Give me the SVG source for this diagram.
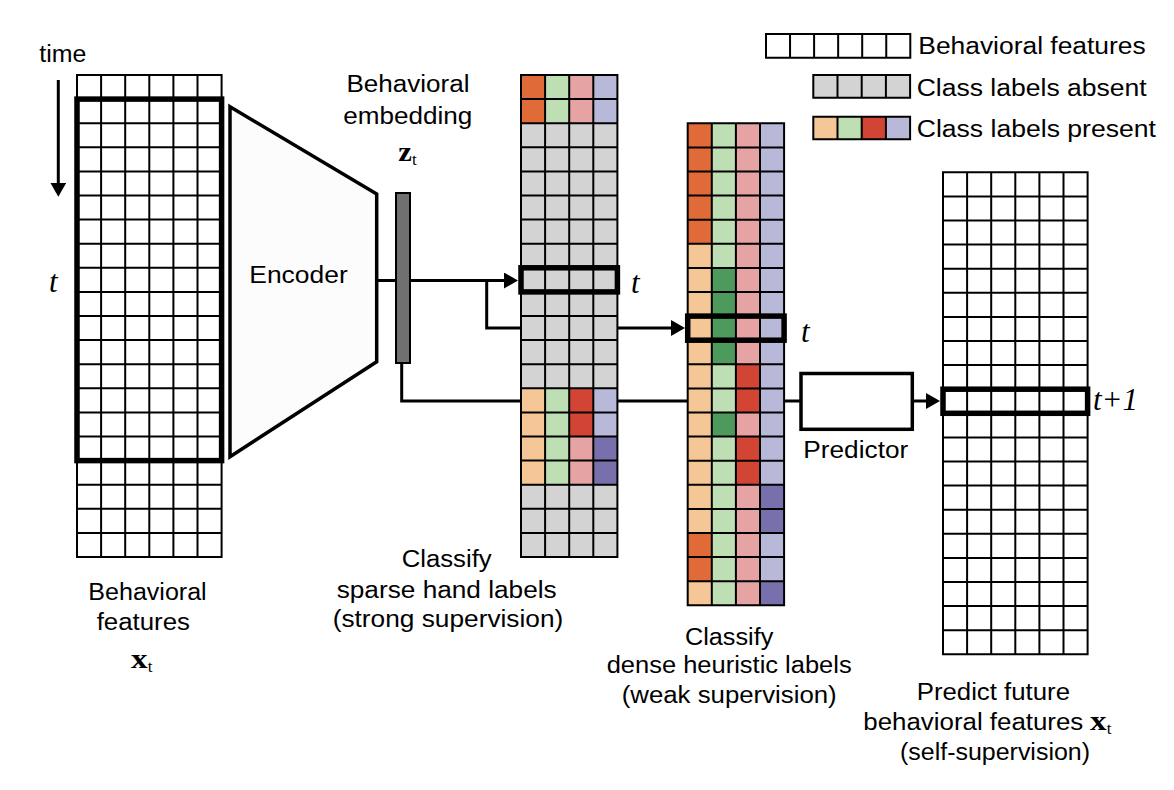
<svg xmlns="http://www.w3.org/2000/svg" width="1174" height="790" viewBox="0 0 1174 790">
<style>
.s{font-family:"Liberation Sans",Arial,Helvetica,sans-serif;font-size:23px;fill:#000}
.it{font-family:"Liberation Serif","Times New Roman",serif;font-style:italic;font-size:31px;fill:#000}
.bx{font-family:"Liberation Serif","Times New Roman",serif;font-weight:bold;font-size:27px;fill:#000}
.sub{font-family:"Liberation Serif","Times New Roman",serif;font-size:17px;fill:#000}
.grid{fill:none;stroke:#000;stroke-width:2;stroke-linecap:square}
.thick{fill:none;stroke:#000;stroke-width:5.5}
.conn{fill:none;stroke:#000;stroke-width:3}
.do{fill:#E06B38}.lg{fill:#BEDFB4}.pk{fill:#E5A3A3}.lv{fill:#B8B8D8}
.pc{fill:#F5C797}.rd{fill:#D24434}.dg{fill:#4E9A5D}.dp{fill:#7870AC}.gy{fill:#D3D3D3}
</style>
<defs>
<marker id="ah" markerUnits="userSpaceOnUse" markerWidth="14" markerHeight="16" viewBox="0 0 14 16" refX="4" refY="8" orient="auto">
<path d="M0,0L14,8L0,16z" fill="#000"/>
</marker>
</defs>
<rect width="1174" height="790" fill="#fff"/>

<g id="connectors">
<path class="conn" d="M377,280.5H508" marker-end="url(#ah)"/>
<path class="conn" d="M486.7,280.5V328H675" marker-end="url(#ah)"/>
<path class="conn" d="M401.7,363V401H801"/>
<path class="conn" d="M912.3,401H930" marker-end="url(#ah)"/>
</g>

<g id="time-axis">
<text class="s" x="39.3" y="61.7" textLength="47" lengthAdjust="spacingAndGlyphs">time</text>
<path class="conn" d="M58.3,80V186.7" marker-end="url(#ah)"/>
<text class="it" x="49" y="291.5">t</text>
</g>

<g id="input-features">
<rect x="77" y="75" width="144.6" height="482" fill="#fff"/>
<path class="grid" d="M77,75V557M101.1,75V557M125.2,75V557M149.3,75V557M173.4,75V557M197.5,75V557M221.6,75V557M77,75H221.6M77,99.1H221.6M77,123.2H221.6M77,147.3H221.6M77,171.4H221.6M77,195.5H221.6M77,219.6H221.6M77,243.7H221.6M77,267.8H221.6M77,291.9H221.6M77,316H221.6M77,340.1H221.6M77,364.2H221.6M77,388.3H221.6M77,412.4H221.6M77,436.5H221.6M77,460.6H221.6M77,484.7H221.6M77,508.8H221.6M77,532.9H221.6M77,557H221.6"/>
<rect class="thick" x="77" y="99.1" width="144.6" height="361.5"/>
<text class="s" x="88.3" y="600" textLength="118.4" lengthAdjust="spacingAndGlyphs">Behavioral</text>
<text class="s" x="96.7" y="630" textLength="93.3" lengthAdjust="spacingAndGlyphs">features</text>
<text class="bx" x="131" y="667.7" textLength="16.5" lengthAdjust="spacingAndGlyphs">x</text>
<text class="sub" x="147.8" y="671.7">t</text>
</g>

<g id="encoder">
<polygon points="230,106.7 376.7,194 376.7,361.7 230,456.7" fill="#FCFCFC" stroke="#000" stroke-width="3.5" stroke-linejoin="miter"/>
<text class="s" x="249.3" y="282.7" textLength="98.4" lengthAdjust="spacingAndGlyphs">Encoder</text>
</g>

<g id="embedding">
<rect x="396" y="193" width="14" height="170" fill="#707070" stroke="#000" stroke-width="2"/>
<text class="s" x="346.5" y="92" textLength="123" lengthAdjust="spacingAndGlyphs">Behavioral</text>
<text class="s" x="343.3" y="123.5" textLength="129" lengthAdjust="spacingAndGlyphs">embedding</text>
<text class="bx" x="398.3" y="161" textLength="13.6" lengthAdjust="spacingAndGlyphs">z</text>
<text class="sub" x="412" y="165">t</text>
</g>

<g id="sparse-labels">
<rect class="gy" x="521" y="75" width="96.4" height="482"/>
<rect class="do" x="521" y="75" width="24.1" height="48.2"/>
<rect class="lg" x="545.1" y="75" width="24.1" height="48.2"/>
<rect class="pk" x="569.2" y="75" width="24.1" height="48.2"/>
<rect class="lv" x="593.3" y="75" width="24.1" height="48.2"/>
<rect class="pc" x="521" y="388.3" width="24.1" height="96.4"/>
<rect class="lg" x="545.1" y="388.3" width="24.1" height="96.4"/>
<rect class="rd" x="569.2" y="388.3" width="24.1" height="48.2"/>
<rect class="pk" x="569.2" y="436.5" width="24.1" height="48.2"/>
<rect class="lv" x="593.3" y="388.3" width="24.1" height="48.2"/>
<rect class="dp" x="593.3" y="436.5" width="24.1" height="48.2"/>
<path class="grid" d="M521,75V557M545.1,75V557M569.2,75V557M593.3,75V557M617.4,75V557M521,75H617.4M521,99.1H617.4M521,123.2H617.4M521,147.3H617.4M521,171.4H617.4M521,195.5H617.4M521,219.6H617.4M521,243.7H617.4M521,267.8H617.4M521,291.9H617.4M521,316H617.4M521,340.1H617.4M521,364.2H617.4M521,388.3H617.4M521,412.4H617.4M521,436.5H617.4M521,460.6H617.4M521,484.7H617.4M521,508.8H617.4M521,532.9H617.4M521,557H617.4"/>
<rect class="thick" x="521" y="267.8" width="96.4" height="24.1"/>
<text class="it" x="631" y="293.3">t</text>
<text class="s" x="401.7" y="566.7" textLength="90" lengthAdjust="spacingAndGlyphs">Classify</text>
<text class="s" x="336.7" y="597.5" textLength="220" lengthAdjust="spacingAndGlyphs">sparse hand labels</text>
<text class="s" x="332.7" y="626.7" textLength="230.6" lengthAdjust="spacingAndGlyphs">(strong supervision)</text>
</g>

<g id="dense-labels">
<rect class="pc" x="687.7" y="123.3" width="24.1" height="482"/>
<rect class="do" x="687.7" y="123.3" width="24.1" height="120.5"/>
<rect class="do" x="687.7" y="533" width="24.1" height="48.2"/>
<rect class="lg" x="711.8" y="123.3" width="24.1" height="482"/>
<rect class="dg" x="711.8" y="267.9" width="24.1" height="96.4"/>
<rect class="dg" x="711.8" y="412.5" width="24.1" height="24.1"/>
<rect class="pk" x="735.9" y="123.3" width="24.1" height="482"/>
<rect class="rd" x="735.9" y="364.3" width="24.1" height="48.2"/>
<rect class="rd" x="735.9" y="436.6" width="24.1" height="48.2"/>
<rect class="lv" x="760" y="123.3" width="24.1" height="482"/>
<rect class="dp" x="760" y="484.8" width="24.1" height="48.2"/>
<rect class="dp" x="760" y="581.2" width="24.1" height="24.1"/>
<path class="grid" d="M687.7,123.3V605.3M711.8,123.3V605.3M735.9,123.3V605.3M760,123.3V605.3M784.1,123.3V605.3M687.7,123.3H784.1M687.7,147.4H784.1M687.7,171.5H784.1M687.7,195.6H784.1M687.7,219.7H784.1M687.7,243.8H784.1M687.7,267.9H784.1M687.7,292H784.1M687.7,316.1H784.1M687.7,340.2H784.1M687.7,364.3H784.1M687.7,388.4H784.1M687.7,412.5H784.1M687.7,436.6H784.1M687.7,460.7H784.1M687.7,484.8H784.1M687.7,508.9H784.1M687.7,533H784.1M687.7,557.1H784.1M687.7,581.2H784.1M687.7,605.3H784.1"/>
<rect class="thick" x="687.7" y="316.1" width="96.4" height="24.1"/>
<text class="it" x="801" y="341.7">t</text>
<text class="s" x="685" y="645" textLength="88.3" lengthAdjust="spacingAndGlyphs">Classify</text>
<text class="s" x="606.7" y="673.3" textLength="245" lengthAdjust="spacingAndGlyphs">dense heuristic labels</text>
<text class="s" x="621.7" y="703.3" textLength="215" lengthAdjust="spacingAndGlyphs">(weak supervision)</text>
</g>

<g id="predictor">
<rect x="801" y="373.5" width="111.3" height="55.8" fill="#fff" stroke="#000" stroke-width="3.5"/>
<text class="s" x="803.3" y="458.3" textLength="105" lengthAdjust="spacingAndGlyphs">Predictor</text>
</g>

<g id="future-features">
<rect x="943" y="172.3" width="144.6" height="482" fill="#fff"/>
<path class="grid" d="M943,172.3V654.3M967.1,172.3V654.3M991.2,172.3V654.3M1015.3,172.3V654.3M1039.4,172.3V654.3M1063.5,172.3V654.3M1087.6,172.3V654.3M943,172.3H1087.6M943,196.4H1087.6M943,220.5H1087.6M943,244.6H1087.6M943,268.7H1087.6M943,292.8H1087.6M943,316.9H1087.6M943,341H1087.6M943,365.1H1087.6M943,389.2H1087.6M943,413.3H1087.6M943,437.4H1087.6M943,461.5H1087.6M943,485.6H1087.6M943,509.7H1087.6M943,533.8H1087.6M943,557.9H1087.6M943,582H1087.6M943,606.1H1087.6M943,630.2H1087.6M943,654.3H1087.6"/>
<rect class="thick" x="943" y="389.2" width="144.6" height="24.1"/>
<text class="it" x="1093" y="410">t+1</text>
<text class="s" x="916.7" y="700" textLength="153.3" lengthAdjust="spacingAndGlyphs">Predict future</text>
<text class="s" x="863.3" y="730" textLength="220" lengthAdjust="spacingAndGlyphs">behavioral features</text>
<text class="bx" x="1090" y="730" textLength="16.5" lengthAdjust="spacingAndGlyphs">x</text>
<text class="sub" x="1106.8" y="734">t</text>
<text class="s" x="900" y="760" textLength="190" lengthAdjust="spacingAndGlyphs">(self-supervision)</text>
</g>

<g id="legend">
<rect x="766" y="34" width="144.3" height="23.7" fill="#fff"/>
<path class="grid" d="M766,34V57.7M790.05,34V57.7M814.1,34V57.7M838.15,34V57.7M862.2,34V57.7M886.25,34V57.7M910.3,34V57.7M766,34H910.3M766,57.7H910.3"/>
<text class="s" x="918.3" y="54.3" textLength="227.4" lengthAdjust="spacingAndGlyphs">Behavioral features</text>
<rect class="gy" x="813.3" y="75" width="96.8" height="22.7"/>
<path class="grid" d="M813.3,75V97.7M837.5,75V97.7M861.7,75V97.7M885.9,75V97.7M910.1,75V97.7M813.3,75H910.1M813.3,97.7H910.1"/>
<text class="s" x="916.7" y="95.7" textLength="230" lengthAdjust="spacingAndGlyphs">Class labels absent</text>
<rect class="pc" x="813.3" y="116.7" width="24.2" height="22.6"/>
<rect class="lg" x="837.5" y="116.7" width="24.2" height="22.6"/>
<rect class="rd" x="861.7" y="116.7" width="24.2" height="22.6"/>
<rect class="lv" x="885.9" y="116.7" width="24.2" height="22.6"/>
<path class="grid" d="M813.3,116.7V139.3M837.5,116.7V139.3M861.7,116.7V139.3M885.9,116.7V139.3M910.1,116.7V139.3M813.3,116.7H910.1M813.3,139.3H910.1"/>
<text class="s" x="916.7" y="136.7" textLength="239.3" lengthAdjust="spacingAndGlyphs">Class labels present</text>
</g>
</svg>
